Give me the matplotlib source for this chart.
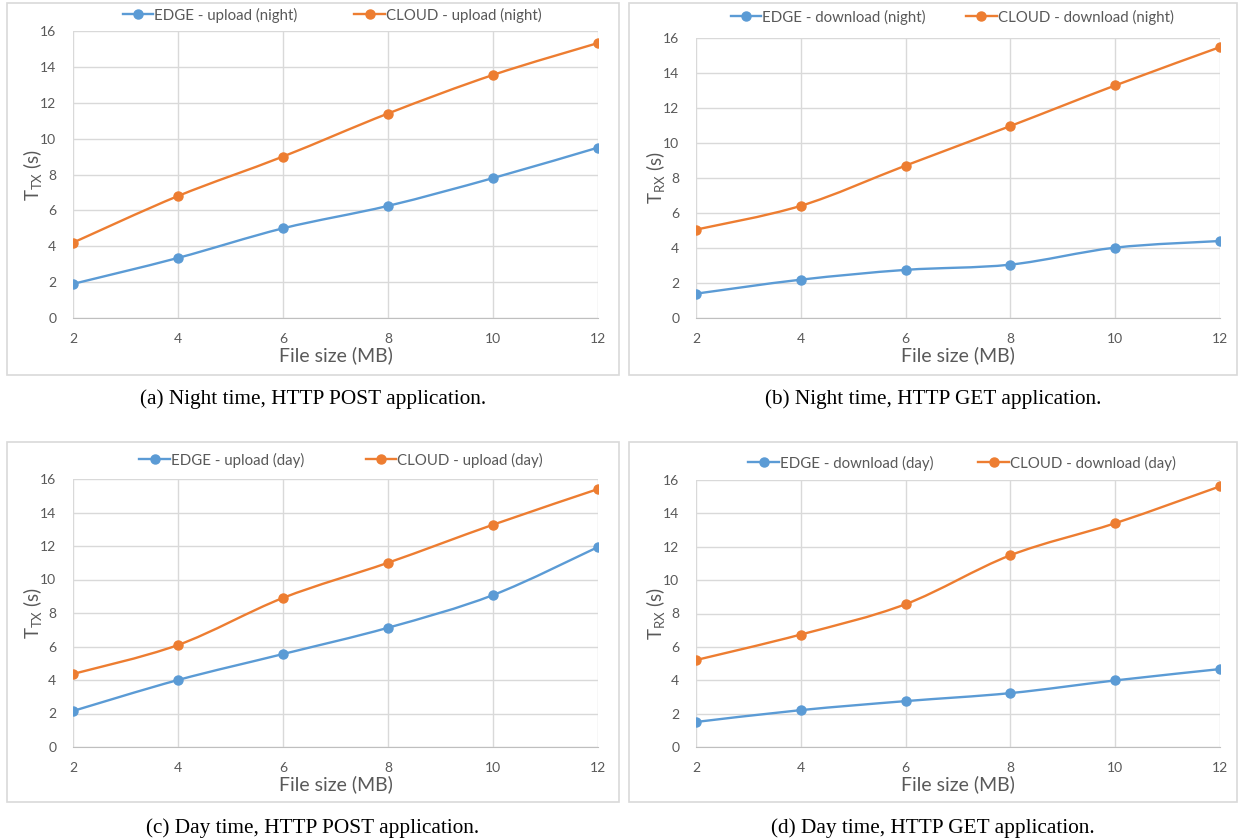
import matplotlib
matplotlib.use("Agg")
import matplotlib.pyplot as plt
from matplotlib.path import Path
from matplotlib.patches import PathPatch, Rectangle
from matplotlib.lines import Line2D

plt.rcParams["font.family"] = ["Lato", "DejaVu Sans"]
plt.rcParams["mathtext.fontset"] = "custom"
plt.rcParams["mathtext.rm"] = "Lato"
plt.rcParams["mathtext.it"] = "Lato"

# file sizes (MB)
file_size = [2, 4, 6, 8, 10, 12]

# transfer times (s)
edge_up_night = [1.90, 3.35, 5.00, 6.25, 7.80, 9.50]
cloud_up_night = [4.20, 6.80, 9.00, 11.40, 13.55, 15.33]
edge_down_night = [1.39, 2.19, 2.75, 3.05, 4.02, 4.40]
cloud_down_night = [5.05, 6.41, 8.71, 10.97, 13.29, 15.48]
edge_up_day = [2.15, 4.00, 5.55, 7.12, 9.07, 11.94]
cloud_up_day = [4.36, 6.09, 8.90, 11.00, 13.27, 15.40]
edge_down_day = [1.50, 2.21, 2.75, 3.23, 3.99, 4.67]
cloud_down_day = [5.21, 6.74, 8.56, 11.49, 13.41, 15.62]

BLUE = "#5B9BD5"
ORANGE = "#ED7D31"
GRID = "#D9D9D9"
TEXT = "#595959"

W, H = 1243, 840
MS = 6.5
LW = 1.7
LEG_FS = 10.8


def smooth_path(x, y, t=1.0 / 6.0):
    """Bezier path through the points, like a spreadsheet 'smoothed line'."""
    n = len(x)
    verts = [(x[0], y[0])]
    codes = [Path.MOVETO]
    for i in range(n - 1):
        x0, y0 = x[max(i - 1, 0)], y[max(i - 1, 0)]
        x3, y3 = x[min(i + 2, n - 1)], y[min(i + 2, n - 1)]
        c1 = (x[i] + (x[i + 1] - x0) * t, y[i] + (y[i + 1] - y0) * t)
        c2 = (x[i + 1] - (x3 - x[i]) * t, y[i + 1] - (y3 - y[i]) * t)
        verts += [c1, c2, (x[i + 1], y[i + 1])]
        codes += [Path.CURVE4] * 3
    return Path(verts, codes)


def px_axes(left, right, top, bottom):
    return [left / W, 1 - bottom / H, (right - left) / W, (bottom - top) / H]


def draw_panel(fig, box, ax_px, legend_xy, col_gap, edge, cloud, labels, ylab,
               caption, caption_y):
    # light frame round each chart
    bx0, bx1, by0, by1 = box
    fig.patches.append(Rectangle((bx0 / W, 1 - by1 / H), (bx1 - bx0) / W, (by1 - by0) / H,
                                 transform=fig.transFigure, fill=False,
                                 edgecolor=GRID, linewidth=1.2))

    ax = fig.add_axes(px_axes(*ax_px))
    for series, color in [(edge, BLUE), (cloud, ORANGE)]:
        ax.add_patch(PathPatch(smooth_path(file_size, series), fill=False,
                               edgecolor=color, linewidth=LW, zorder=3))
        ax.plot(file_size, series, linestyle="none", marker="o", markersize=MS,
                color=color, zorder=4)

    ax.set_xlim(2, 12)
    ax.set_ylim(0, 16)
    ax.set_xticks(file_size)
    ax.set_yticks(range(0, 17, 2))
    ax.grid(True, color=GRID, linewidth=1.0)
    ax.set_axisbelow(True)
    for side in ["top", "right", "left"]:
        ax.spines[side].set_visible(False)
    ax.spines["bottom"].set_color("#BFBFBF")
    ax.tick_params(length=0, labelsize=10, labelcolor=TEXT)
    ax.tick_params(axis="x", pad=11)
    ax.tick_params(axis="y", pad=12)
    ax.set_xlabel("File size (MB)", fontsize=14, color=TEXT, labelpad=1)
    ax.set_ylabel(ylab, fontsize=13.5, color=TEXT, labelpad=-2.5)

    handles = [Line2D([], [], color=BLUE, lw=LW, marker="o", markersize=MS),
               Line2D([], [], color=ORANGE, lw=LW, marker="o", markersize=MS)]
    lx, ly = legend_xy
    ax.legend(handles, labels, loc="center", ncol=2, frameon=False,
              bbox_to_anchor=(lx / W, 1 - ly / H), bbox_transform=fig.transFigure,
              fontsize=LEG_FS, labelcolor=TEXT, handlelength=2.05, handletextpad=0.05,
              columnspacing=col_gap, borderpad=0)

    fig.text((bx0 + bx1) / 2 / W, 1 - caption_y / H, caption, ha="center", va="center",
             fontsize=15.3, family="Liberation Serif", color="black")
    return ax


fig = plt.figure(figsize=(W / 100, H / 100), dpi=100)

ylab_tx = r"$\mathregular{T_{TX}}$ (s)"
ylab_rx = r"$\mathregular{T_{RX}}$ (s)"

draw_panel(fig, (7, 619, 3, 375), (73, 598, 31, 318), (332, 15), 3.8,
           edge_up_night, cloud_up_night,
           ["EDGE - upload (night)", "CLOUD - upload (night)"], ylab_tx,
           "(a) Night time, HTTP POST application.", 399)
draw_panel(fig, (629, 1237, 3, 375), (696, 1220, 38, 318), (952, 17), 2.7,
           edge_down_night, cloud_down_night,
           ["EDGE - download (night)", "CLOUD - download (night)"], ylab_rx,
           "(b) Night time, HTTP GET application.", 399)
draw_panel(fig, (7, 619, 442, 802), (73, 598, 479, 747), (341, 460), 4.1,
           edge_up_day, cloud_up_day,
           ["EDGE - upload (day)", "CLOUD - upload (day)"], ylab_tx,
           "(c) Day time, HTTP POST application.", 828)
draw_panel(fig, (629, 1237, 442, 802), (696, 1220, 480, 747), (962, 463), 3.0,
           edge_down_day, cloud_down_day,
           ["EDGE - download (day)", "CLOUD - download (day)"], ylab_rx,
           "(d) Day time, HTTP GET application.", 828)

fig.savefig("out.png", dpi=100, facecolor="white")
